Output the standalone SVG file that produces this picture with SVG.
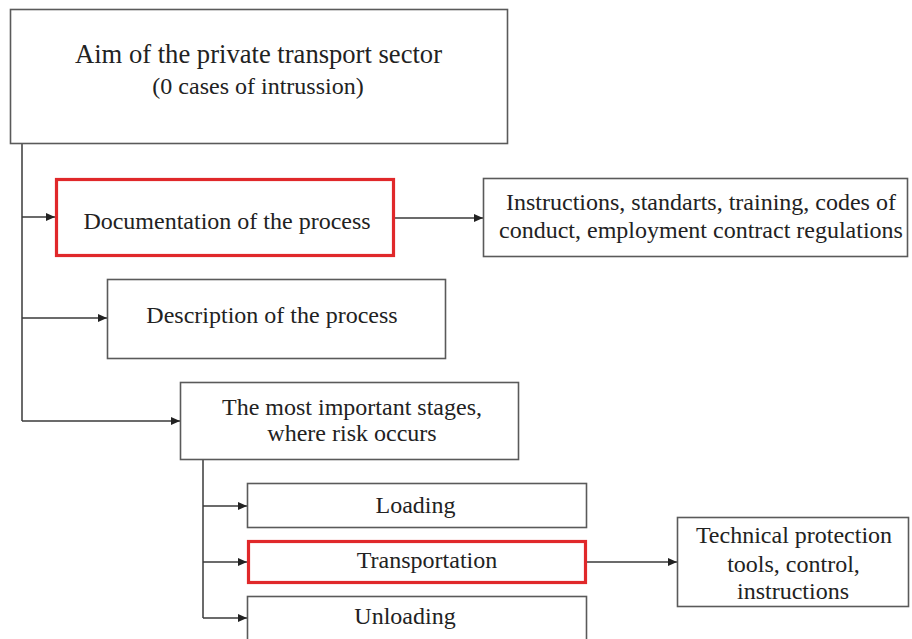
<svg xmlns="http://www.w3.org/2000/svg" width="912" height="639" viewBox="0 0 912 639">
<style>
  .box { fill: #ffffff; stroke: #5a5a5a; stroke-width: 1.6; }
  .red { fill: #ffffff; stroke: #e0282a; stroke-width: 3.2; }
  .t { font-family: "Liberation Serif", "Times New Roman", serif; font-size: 24px; fill: #222222; text-anchor: middle; }
  .conn { fill: none; stroke: #3a3a3a; stroke-width: 1.5; }
  .arr { fill: none; stroke: #3a3a3a; stroke-width: 1.5; marker-end: url(#ah); }
</style>
<defs>
  <marker id="ah" markerUnits="userSpaceOnUse" markerWidth="9" markerHeight="8" refX="9" refY="4" orient="auto">
    <path d="M0,0 L9,4 L0,8 z" fill="#222222"/>
  </marker>
</defs>
<rect width="912" height="639" fill="#ffffff"/>
<g id="connectors">
  <path class="conn" d="M22,144 V421"/>
  <path class="arr" d="M22,217 H55"/>
  <path class="arr" d="M22,318 H107"/>
  <path class="arr" d="M22,421 H180"/>
  <path class="arr" d="M395,218 H483"/>
  <path class="conn" d="M203,460 V618"/>
  <path class="arr" d="M203,506 H247"/>
  <path class="arr" d="M203,562 H247"/>
  <path class="arr" d="M203,618 H247"/>
  <path class="arr" d="M587,562 H677"/>
</g>
<g id="aim">
  <rect class="box" x="10.5" y="9.5" width="497" height="134" fill="#fcfdfe"/>
  <text class="t" x="258.5" y="63" style="font-size:26.6px">Aim of the private transport sector</text>
  <text class="t" x="258" y="94">(0 cases of intrussion)</text>
</g>
<g id="documentation">
  <rect class="red" x="56.5" y="179.5" width="337" height="76"/>
  <text class="t" x="227" y="229">Documentation of the process</text>
</g>
<g id="instructions">
  <rect class="box" x="483.5" y="178.5" width="424" height="78"/>
  <text class="t" x="701" y="210">Instructions, standarts, training, codes of</text>
  <text class="t" x="701" y="238">conduct, employment contract regulations</text>
</g>
<g id="description">
  <rect class="box" x="107.5" y="279.5" width="338" height="79"/>
  <text class="t" x="272" y="323">Description of the process</text>
</g>
<g id="stages">
  <rect class="box" x="180.5" y="382.5" width="338" height="77"/>
  <text class="t" x="352" y="415">The most important stages,</text>
  <text class="t" x="352" y="441">where risk occurs</text>
</g>
<g id="loading">
  <rect class="box" x="247.5" y="483.5" width="339" height="44"/>
  <text class="t" x="415.5" y="513">Loading</text>
</g>
<g id="transportation">
  <rect class="red" x="248.5" y="541.5" width="337" height="41"/>
  <text class="t" x="427" y="568">Transportation</text>
</g>
<g id="unloading">
  <rect class="box" x="247.5" y="596.5" width="339" height="60"/>
  <text class="t" x="405" y="624">Unloading</text>
</g>
<g id="technical">
  <rect class="box" x="677.5" y="517.5" width="231" height="89"/>
  <text class="t" x="794" y="543">Technical protection</text>
  <text class="t" x="793.5" y="572">tools, control,</text>
  <text class="t" x="793" y="599">instructions</text>
</g>
</svg>
